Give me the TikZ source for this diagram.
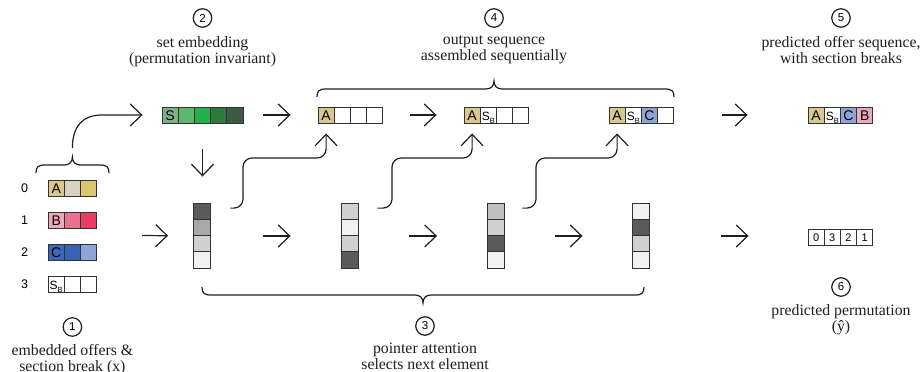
\documentclass[tikz,border=0pt]{standalone}
\usepackage{fontspec}
\setmainfont{Liberation Serif}
\newfontfamily\sansf{Liberation Sans}
\usetikzlibrary{arrows.meta,calc,positioning}
\definecolor{tanA}{RGB}{216,200,140}
\definecolor{beigeM}{RGB}{216,210,196}
\definecolor{goldR}{RGB}{218,198,110}
\definecolor{pinkL}{RGB}{234,170,186}
\definecolor{pinkM}{RGB}{232,114,142}
\definecolor{pinkR}{RGB}{232,62,100}
\definecolor{blueD}{RGB}{62,102,182}
\definecolor{blueM}{RGB}{58,98,178}
\definecolor{blueL}{RGB}{143,163,216}
\definecolor{gS}{RGB}{127,176,138}
\definecolor{gB}{RGB}{92,184,108}
\definecolor{gC}{RGB}{36,176,76}
\definecolor{gD}{RGB}{46,122,62}
\definecolor{gE}{RGB}{62,90,66}
\definecolor{grD}{RGB}{90,90,90}
\definecolor{grM}{RGB}{168,168,168}
\definecolor{grL}{RGB}{208,208,208}
\definecolor{grV}{RGB}{241,241,241}
\definecolor{grT}{RGB}{192,192,192}
\definecolor{edgec}{RGB}{50,50,50}
\definecolor{ink}{RGB}{30,30,30}
\newcommand{\sbmark}{{\fontsize{12}{12}\selectfont S\raisebox{-3pt}{\fontsize{7.5}{7.5}\selectfont B}}}
\begin{document}
\begin{tikzpicture}[x=1pt,y=-1pt,
  cell/.style={draw=edgec, line width=0.9pt, minimum width=16.2pt, minimum height=16pt,
    inner sep=0pt, text height=10pt, text depth=0pt, font=\sansf\fontsize{14}{14}\selectfont},
  digit/.style={cell, text height=8pt, font=\sansf\fontsize{11}{11}\selectfont},
  colcell/.style={draw=edgec, line width=0.9pt, minimum width=17pt, minimum height=16.25pt, inner sep=0pt},
  arr/.style={-{Straight Barb[length=11.5pt,width=22pt]}, line width=1.2pt, draw=ink},
  brc/.style={line width=1.2pt, draw=ink},
  circ/.style={circle, draw=ink, line width=1.2pt, minimum size=18.5pt, inner sep=0pt,
    font=\sansf\fontsize{11.5}{11.5}\selectfont},
  lbl/.style={align=center, inner sep=0pt, text=ink, font=\rmfamily\fontsize{15.8}{16}\selectfont},
  rowlbl/.style={inner sep=0pt, font=\sansf\fontsize{12.5}{12.5}\selectfont}
]
\useasboundingbox (0,0) rectangle (922,372);

% ---- left input rows
\node[rowlbl] (k0) at (24.5,188) {0};
\node[rowlbl] (k1) at (24.5,220) {1};
\node[rowlbl] (k2) at (24.5,252) {2};
\node[rowlbl] (k3) at (24.5,284) {3};
\node[cell, fill=tanA] (r0a) at (56.2,188) {A};
\node[cell, fill=beigeM] (r0b) at (72.4,188) {};
\node[cell, fill=goldR] (r0c) at (88.6,188) {};
\node[cell, fill=pinkL] (r1a) at (56.2,220) {B};
\node[cell, fill=pinkM] (r1b) at (72.4,220) {};
\node[cell, fill=pinkR] (r1c) at (88.6,220) {};
\node[cell, fill=blueD] (r2a) at (56.2,252) {C};
\node[cell, fill=blueM] (r2b) at (72.4,252) {};
\node[cell, fill=blueL] (r2c) at (88.6,252) {};
\node[cell, fill=white] (r3a) at (56.2,284) {\sbmark};
\node[cell, fill=white] (r3b) at (72.4,284) {};
\node[cell, fill=white] (r3c) at (88.6,284) {};

% ---- set embedding
\node[cell, fill=gS] (s1) at (170.1,115) {S};
\node[cell, fill=gB] (s2) at (186.3,115) {};
\node[cell, fill=gC] (s3) at (202.5,115) {};
\node[cell, fill=gD] (s4) at (218.7,115) {};
\node[cell, fill=gE] (s5) at (234.9,115) {};

% ---- output sequences
\node[cell, fill=tanA] (o1a) at (326.1,115) {A};
\node[cell] (o1b) at (342.3,115) {};
\node[cell] (o1c) at (358.5,115) {};
\node[cell] (o1d) at (374.7,115) {};
\node[cell, fill=tanA] (o2a) at (472.1,115) {A};
\node[cell] (o2b) at (488.3,115) {\sbmark};
\node[cell] (o2c) at (504.5,115) {};
\node[cell] (o2d) at (520.7,115) {};
\node[cell, fill=tanA] (o3a) at (617.1,115) {A};
\node[cell] (o3b) at (633.3,115) {\sbmark};
\node[cell, fill=blueL] (o3c) at (649.5,115) {C};
\node[cell] (o3d) at (665.7,115) {};
\node[cell, fill=tanA] (f1) at (816.1,115) {A};
\node[cell] (f2) at (832.3,115) {\sbmark};
\node[cell, fill=blueL] (f3) at (848.5,115) {C};
\node[cell, fill=pinkL] (f4) at (864.7,115) {B};

% ---- attention columns
\foreach \n/\x/\ca/\cb/\cc/\cd in {c1/202/grD/grM/grL/grV, c2/349.5/grL/grV/grL/grD,
    c3/496/grT/grL/grD/grV, c4/641/grV/grD/grL/grV}{
  \node[colcell, fill=\ca] (\n a) at (\x,211.1) {};
  \node[colcell, fill=\cb] (\n b) at (\x,227.4) {};
  \node[colcell, fill=\cc] (\n c) at (\x,243.6) {};
  \node[colcell, fill=\cd] (\n d) at (\x,259.9) {};
}

% ---- permutation
\node[digit] (p1) at (816.1,237) {0};
\node[digit] (p2) at (832.3,237) {3};
\node[digit] (p3) at (848.5,237) {2};
\node[digit] (p4) at (864.7,237) {1};

% ---- braces
\draw[brc] (36,173) .. controls (36,167) and (38,165) .. (45,165) -- (64.4,165)
  .. controls (69.4,165) and (72.4,162) .. (72.4,157)
  .. controls (72.4,162) and (75.4,165) .. (80.4,165) -- (100,165)
  .. controls (107,165) and (109,167) .. (109,173);
\draw[brc] (317,97) .. controls (317,91) and (319,89) .. (326,89) -- (486,89)
  .. controls (491,89) and (494,86) .. (494,81)
  .. controls (494,86) and (497,89) .. (502,89) -- (665,89)
  .. controls (672,89) and (674,91) .. (674,97);
\draw[brc] (202,287) .. controls (202,293) and (204,295) .. (211,295) -- (415,295)
  .. controls (420,295) and (423,298) .. (423,303)
  .. controls (423,298) and (426,295) .. (431,295) -- (635,295)
  .. controls (642,295) and (644,293) .. (644,287);

% ---- arrows
\coordinate (bt) at (72.4,148);
\draw[arr, shorten >=19pt] (bt) .. controls (72.4,127) and (82,115) .. (102,115) -- (s1.west);
\draw[arr, shorten <=26pt, shorten >=26pt] (s3.south) -- (s3.south |- c1a.north);
\draw[arr, shorten <=20pt, shorten >=27pt] (s5.east) -- (o1a.west);
\draw[arr, shorten <=27pt, shorten >=27pt] (o1d.east) -- (o2a.west);
\draw[arr, shorten <=48pt, shorten >=60pt] (o3d.east) -- (f1.west);
\coordinate (inL) at (142,235.5);
\draw[arr, shorten >=25pt] (inL) -- (c1b.south west);
\draw[arr, shorten <=52pt, shorten >=50pt] (c1b.south east) -- (c2b.south west);
\draw[arr, shorten <=51pt, shorten >=50pt] (c2b.south east) -- (c3b.south west);
\draw[arr, shorten <=50.5pt, shorten >=49.5pt] (c3b.south east) -- (c4b.south west);
\draw[arr, shorten <=71.5pt, shorten >=59pt] (c4b.south east) -- (c4b.south east -| p1.west);

\draw[arr, rounded corners=9pt, shorten >=10pt] ($(c1a.east)+(19.5,-3)$) -| (243,158) -| (o1a.south);
\draw[arr, rounded corners=9pt, shorten >=10pt] ($(c2a.east)+(19,-3)$) -| (392,158) -| (o2a.south);
\draw[arr, rounded corners=9pt, shorten >=10pt] ($(c3a.east)+(17.5,-3)$) -| (536,158) -| (o3a.south);

% ---- circled numbers and captions
\node[circ] (n1) at (72.4,327) {1};
\node[lbl, below=7pt of n1] (t1) {embedded offers \&\\section break (x)};
\node[circ] (n2) at (202.5,18) {2};
\node[lbl, below=8pt of n2] (t2) {set embedding\\(permutation invariant)};
\node[circ] (n3) at (425,326) {3};
\node[lbl, below=7pt of n3] (t3) {pointer attention\\selects next element};
\node[circ] (n4) at (494,18) {4};
\node[lbl, below=8pt of n4] (t4) {output sequence\\assembled sequentially};
\node[circ] (n5) at (841,18) {5};
\node[lbl, below=8pt of n5] (t5) {predicted offer sequence,\\with section breaks};
\node[circ] (n6) at (841,287) {6};
\node[lbl, below=7pt of n6] (t6) {predicted permutation\\(ŷ)};
\end{tikzpicture}
\end{document}
